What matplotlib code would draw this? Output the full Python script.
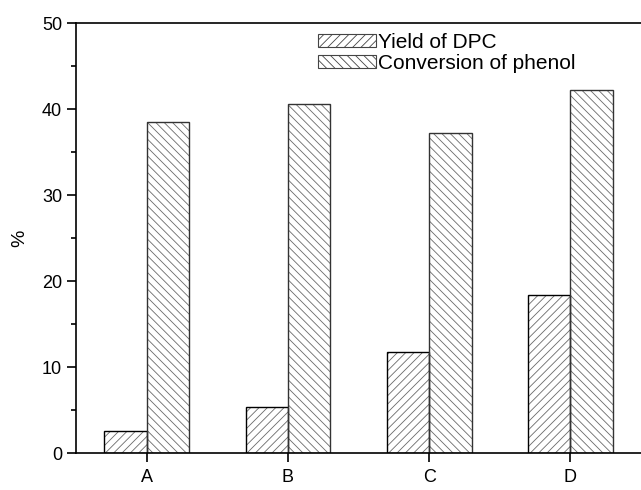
import numpy as np
import matplotlib
matplotlib.use('Agg')
import matplotlib.pyplot as plt
from matplotlib.patches import Patch

# datos
categorias = ['A', 'B', 'C', 'D']
rendimiento_dpc = [2.6, 5.4, 11.7, 18.4]
conversion_fenol = [38.5, 40.6, 37.2, 42.2]
etiquetas = ['Yield of DPC', 'Conversion of phenol']

plt.rcParams['font.family'] = ['Liberation Sans', 'DejaVu Sans']
plt.rcParams['hatch.linewidth'] = 0.6
gris = '#6a6a6a'

fig = plt.figure(figsize=(6.41, 4.90), dpi=100)
ax = fig.add_axes([0.1186, 0.0755, 0.8814, 0.8775])

x = np.arange(len(categorias))
ancho = 0.3
# relleno rayado en gris y luego el contorno encima
ax.bar(x - ancho / 2, rendimiento_dpc, ancho, color='white', edgecolor=gris,
       linewidth=0, hatch='////')
ax.bar(x + ancho / 2, conversion_fenol, ancho, color='white', edgecolor=gris,
       linewidth=0, hatch='\\\\\\\\')
ax.bar(x - ancho / 2, rendimiento_dpc, ancho, fill=False, edgecolor='black', linewidth=1.0)
ax.bar(x + ancho / 2, conversion_fenol, ancho, fill=False, edgecolor='#333333', linewidth=1.0)

ax.set_xlim(-0.5, 3.5)
ax.set_ylim(0, 50)
ax.set_xticks(x)
ax.set_xticklabels(categorias)
ax.set_yticks([0, 10, 20, 30, 40, 50])
ax.set_yticks([5, 15, 25, 35, 45], minor=True)
ax.tick_params(axis='both', which='major', labelsize=13, width=1.2, length=6.5, direction='out')
ax.tick_params(axis='y', which='minor', width=1.2, length=3.5, direction='out')
ax.tick_params(axis='x', pad=5)
ax.spines['right'].set_visible(False)
for s in ['left', 'bottom', 'top']:
    ax.spines[s].set_linewidth(1.2)
ax.set_ylabel('%', fontsize=14, labelpad=10)

manijas = [Patch(facecolor='white', edgecolor='#444444', hatch='////', linewidth=0.8),
           Patch(facecolor='white', edgecolor='#444444', hatch='\\\\\\\\', linewidth=0.8)]
ax.legend(manijas, etiquetas, loc='upper left', bbox_to_anchor=(0.428, 0.977),
          frameon=False, fontsize=15, handlelength=2.8, handleheight=0.55,
          handletextpad=0.1, labelspacing=0.1, borderpad=0, borderaxespad=0)

fig.savefig('out.png', dpi=100)
